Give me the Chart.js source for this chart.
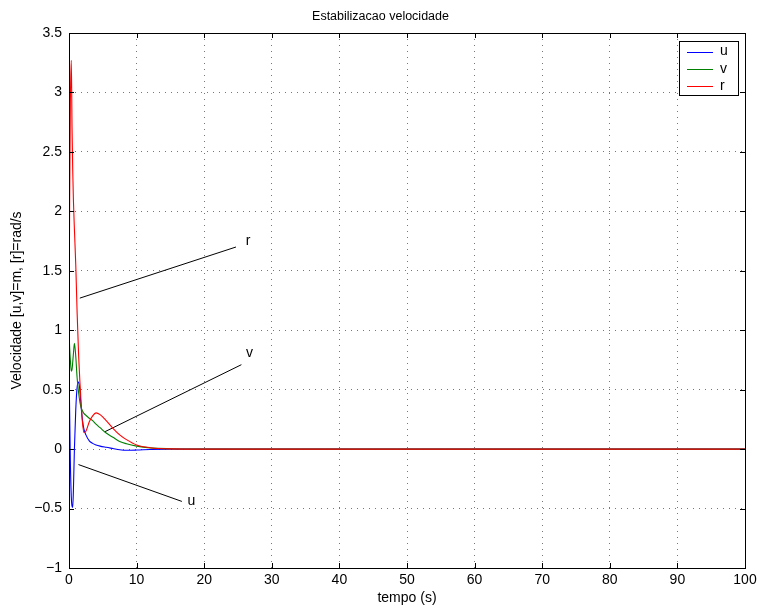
<!DOCTYPE html>
<html>
<head>
<meta charset="utf-8">
<script src="https://cdn.jsdelivr.net/npm/chart.js@4/dist/chart.umd.min.js"></script>
<style>
  html, body { margin: 0; padding: 0; background: #fff; }
  canvas { display: block; }
</style>
</head>
<body>
<canvas id="velChart" width="761" height="610"></canvas>
<script>
// time samples (s)
const tempo = [0, 0.1, 0.2, 0.34, 0.45, 0.55, 0.65, 0.8, 1.0, 1.2, 1.43, 1.6, 1.8, 2.0, 2.2, 2.5,
  3.0, 3.5, 4.0, 4.6, 5.5, 6.5, 7.5, 8.5, 10, 12, 15, 20, 30, 50, 100]

const uVals = [0.7, 0.3, -0.1, -0.4, -0.48, -0.49, -0.35, 0.0, 0.33, 0.52, 0.565, 0.5, 0.35, 0.24, 0.17, 0.12,
  0.07, 0.048, 0.035, 0.025, 0.015, 0.005, -0.005, -0.01, -0.008, -0.003, 0, 0, 0, 0, 0]

const vVals = [1.0, 0.85, 0.75, 0.655, 0.67, 0.73, 0.8, 0.89, 0.78, 0.6, 0.47, 0.4, 0.35, 0.32, 0.3, 0.285,
  0.26, 0.24, 0.21, 0.18, 0.135, 0.1, 0.065, 0.045, 0.025, 0.01, 0.003, 0, 0, 0, 0]

const rVals = [1.0, 2.1, 2.9, 3.27, 2.7, 2.35, 2.1, 1.85, 1.55, 1.15, 0.78, 0.58, 0.38, 0.22, 0.14, 0.15,
  0.23, 0.28, 0.305, 0.29, 0.24, 0.175, 0.12, 0.08, 0.035, 0.012, 0.002, 0, 0, 0, 0]

const seriesNames = ['u', 'v', 'r']
const seriesColors = ['#0000ff', '#008000', '#ff0000']

const xTicks = [0, 10, 20, 30, 40, 50, 60, 70, 80, 90, 100]
const yTicks = [-1, -0.5, 0, 0.5, 1, 1.5, 2, 2.5, 3, 3.5]

// annotation arrows (data coords) and their labels
const annoLines = [
  [[1.6, 1.27], [24.7, 1.70]],
  [[5.3, 0.146], [25.5, 0.71]],
  [[1.4, -0.13], [16.7, -0.44]]
]
const annoText = ['r', 'v', 'u']
const annoTextPos = [[26.5, 1.75], [26.7, 0.81], [18.1, -0.44]]

const chartTitle = 'Estabilizacao velocidade'

const FONT = 'Liberation Sans, Arial, Helvetica, sans-serif'

const toPoints = (ys) => tempo.map((t, i) => ({ x: t, y: ys[i] }))

let datasets = []

// chart.js paints index 0 last, so r goes first to end up on top
const allVals = [uVals, vVals, rVals]
;[2, 1, 0].forEach(i => {
  datasets.push({
    label: seriesNames[i],
    data: toPoints(allVals[i]),
    borderColor: seriesColors[i],
    borderWidth: 1.1,
    pointRadius: 0,
    cubicInterpolationMode: 'monotone'
  })
})

annoLines.forEach(seg => {
  datasets.push({
    data: seg.map(p => ({ x: p[0], y: p[1] })),
    borderColor: '#000',
    borderWidth: 1,
    pointRadius: 0,
    tension: 0
  })
})

const matlabAxes = {
  id: 'matlabAxes',
  afterDatasetsDraw(chart) {
    const ctx = chart.ctx
    const a = chart.chartArea
    const xs = chart.scales.x
    const ys = chart.scales.y
    ctx.save()
    ctx.strokeStyle = '#000'
    ctx.lineWidth = 1
    // inward tick marks
    ctx.beginPath()
    xTicks.forEach(v => {
      const px = Math.round(xs.getPixelForValue(v)) + 0.5
      ctx.moveTo(px, a.bottom); ctx.lineTo(px, a.bottom - 5)
      ctx.moveTo(px, a.top); ctx.lineTo(px, a.top + 5)
    })
    yTicks.forEach(v => {
      const py = Math.round(ys.getPixelForValue(v)) + 0.5
      ctx.moveTo(a.left, py); ctx.lineTo(a.left + 5, py)
      ctx.moveTo(a.right, py); ctx.lineTo(a.right - 5, py)
    })
    ctx.stroke()
    // frame
    ctx.strokeRect(Math.round(a.left) + 0.5, Math.round(a.top) + 0.5,
      Math.round(a.right - a.left), Math.round(a.bottom - a.top))

    // title
    ctx.fillStyle = '#000'
    ctx.textAlign = 'center'
    ctx.textBaseline = 'middle'
    ctx.font = '12.5px ' + FONT
    ctx.fillText(chartTitle, 380.5, 17)

    // annotation labels
    ctx.font = '14px ' + FONT
    annoText.forEach((txt, i) => {
      const p = annoTextPos[i]
      ctx.fillText(txt, xs.getPixelForValue(p[0]), ys.getPixelForValue(p[1]))
    })

    // legend box
    const bx = 679.5, by = 41.5, bw = 59, bh = 54
    ctx.fillStyle = '#fff'
    ctx.fillRect(bx, by, bw, bh)
    ctx.strokeStyle = '#000'
    ctx.strokeRect(bx, by, bw, bh)
    seriesNames.forEach((name, i) => {
      const ly = 51.5 + i * 17.3
      ctx.strokeStyle = seriesColors[i]
      ctx.lineWidth = 1
      ctx.beginPath()
      ctx.moveTo(687, Math.round(ly) + 0.5)
      ctx.lineTo(713, Math.round(ly) + 0.5)
      ctx.stroke()
      ctx.fillStyle = '#000'
      ctx.textAlign = 'left'
      ctx.fillText(name, 720, ly)
    })
    ctx.restore()
  }
}

const config = {
  type: 'line',
  data: { datasets: datasets },
  options: {
    responsive: false,
    animation: false,
    layout: { padding: { top: 33, right: 16, left: 0, bottom: 0 } },
    plugins: {
      legend: { display: false },
      tooltip: { enabled: false },
      title: { display: false }
    },
    scales: {
      x: {
        type: 'linear',
        min: 0,
        max: 100,
        afterBuildTicks: (scale) => { scale.ticks = xTicks.map(v => ({ value: v })) },
        afterFit: (scale) => { scale.height = 42 },
        ticks: { color: '#000', font: { family: FONT, size: 14 }, padding: 4, maxRotation: 0 },
        grid: { color: '#777', drawTicks: false },
        border: { display: false, dash: [1, 5] },
        title: {
          display: true,
          text: 'tempo (s)',
          color: '#000',
          font: { family: FONT, size: 14 },
          padding: { top: 0, bottom: 3 }
        }
      },
      y: {
        type: 'linear',
        min: -1,
        max: 3.5,
        afterBuildTicks: (scale) => { scale.ticks = yTicks.map(v => ({ value: v })) },
        afterFit: (scale) => { scale.width = 69 },
        ticks: {
          color: '#000',
          font: { family: FONT, size: 14 },
          padding: 7,
          callback: (v) => (v < 0 ? '\u2212' + Math.abs(v) : String(v))
        },
        grid: { color: '#777', drawTicks: false },
        border: { display: false, dash: [1, 5] },
        title: {
          display: true,
          text: 'Velocidade [u,v]=m, [r]=rad/s',
          color: '#000',
          font: { family: FONT, size: 14 },
          padding: { top: 9, bottom: 0 }
        }
      }
    }
  },
  plugins: [matlabAxes]
}

const chart = new Chart(document.getElementById('velChart'), config)
</script>
</body>
</html>
